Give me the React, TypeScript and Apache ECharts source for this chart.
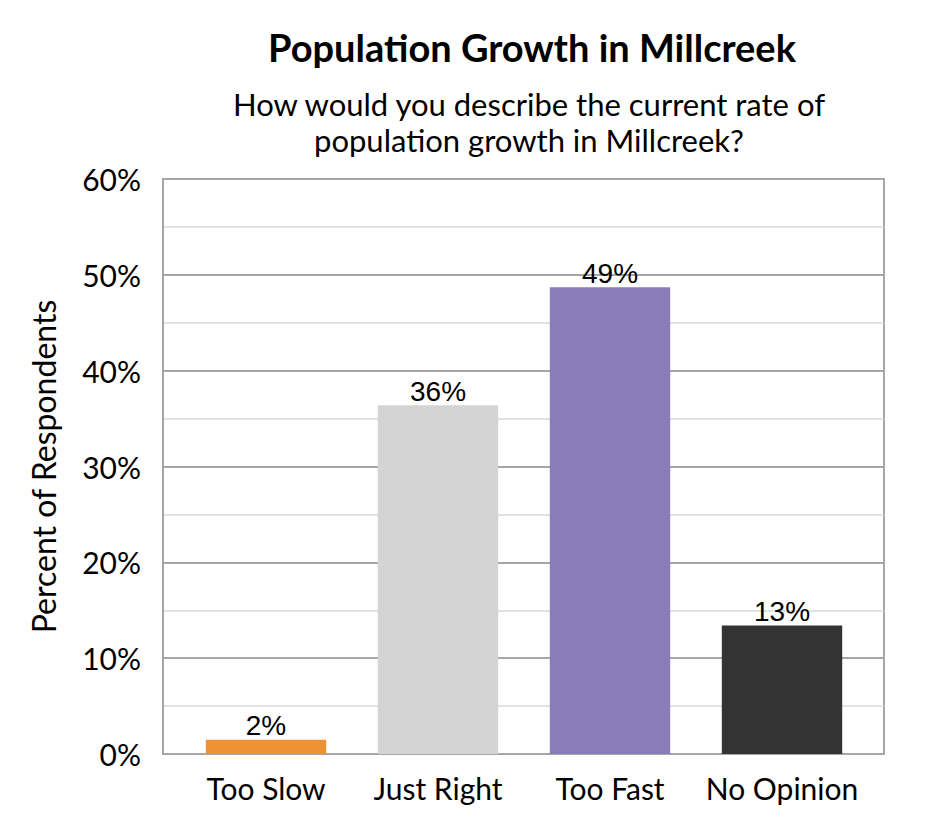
import React, {useRef, useEffect} from 'react';
import * as echarts from 'echarts';

const categories = ['Too Slow', 'Just Right', 'Too Fast', 'No Opinion'];
const values = [1.5, 36.4, 48.7, 13.4];
const labels = ['2%', '36%', '49%', '13%'];
const barColors = ['#EE9335', '#D4D4D4', '#897CB7', '#333333'];

const FONT = 'Lato, "Noto Sans", sans-serif';
const GRID_TOP = 179;
const GRID_BOTTOM = 86;

const App = () => {
    const ref = useRef<HTMLDivElement>(null);

    useEffect(() => {
        const chart = echarts.init(ref.current as HTMLDivElement, undefined, {renderer: 'svg'});
        chart.setOption({
            animation: false,
            backgroundColor: '#ffffff',
            title: [
                {
                    text: 'Population Growth in Millcreek',
                    left: 527,
                    top: 23,
                    textAlign: 'center',
                    textStyle: {fontFamily: FONT, fontSize: 38, fontWeight: 'bold', color: '#000'}
                },
                {
                    text: 'How would you describe the current rate of\npopulation growth in Millcreek?',
                    left: 524,
                    top: 81,
                    textAlign: 'center',
                    textStyle: {fontFamily: FONT, fontSize: 31, fontWeight: 'normal', color: '#000', lineHeight: 36}
                }
            ],
            // grid 0: plot frame and gridlines, grid 1: the bars (Excel keeps a small inset)
            grid: [
                {
                    left: 163,
                    right: 61,
                    top: GRID_TOP,
                    bottom: GRID_BOTTOM,
                    show: true,
                    borderColor: '#A6A6A6',
                    borderWidth: 2
                },
                {left: 180, right: 77, top: GRID_TOP, bottom: GRID_BOTTOM}
            ],
            xAxis: [
                {
                    gridIndex: 0,
                    type: 'value',
                    min: 0,
                    max: 1,
                    axisLine: {show: true, lineStyle: {color: '#A6A6A6', width: 2}},
                    axisTick: {show: false},
                    axisLabel: {show: false},
                    splitLine: {show: false}
                },
                {
                    gridIndex: 1,
                    type: 'category',
                    data: categories,
                    axisLine: {show: false},
                    axisTick: {show: false},
                    axisLabel: {interval: 0, fontFamily: FONT, fontSize: 30, color: '#000', margin: 19}
                }
            ],
            yAxis: [
                {
                    gridIndex: 0,
                    type: 'value',
                    min: 0,
                    max: 60,
                    interval: 10,
                    name: 'Percent of Respondents',
                    nameLocation: 'middle',
                    nameRotate: 90,
                    nameGap: 104,
                    nameTextStyle: {fontFamily: FONT, fontSize: 32, color: '#000'},
                    axisLine: {show: true, lineStyle: {color: '#A6A6A6', width: 2}},
                    axisTick: {show: false},
                    axisLabel: {
                        fontFamily: FONT,
                        fontSize: 30,
                        color: '#000',
                        margin: 22,
                        formatter: (v: number) => v + '%'
                    },
                    splitLine: {show: true, lineStyle: {color: '#A6A6A6', width: 2}},
                    minorTick: {show: false, splitNumber: 2},
                    minorSplitLine: {show: true, lineStyle: {color: '#D9D9D9', width: 1.5}}
                },
                {
                    gridIndex: 1,
                    type: 'value',
                    min: 0,
                    max: 60,
                    interval: 10,
                    show: false
                }
            ],
            series: [
                {
                    type: 'bar',
                    xAxisIndex: 1,
                    yAxisIndex: 1,
                    data: values.map((v, i) => ({value: v, itemStyle: {color: barColors[i]}})),
                    barCategoryGap: '30%',
                    label: {
                        show: true,
                        position: 'top',
                        distance: 0,
                        fontFamily: '"Liberation Sans", Arial, sans-serif',
                        fontSize: 28,
                        color: '#000',
                        formatter: (p: {dataIndex: number}) => labels[p.dataIndex]
                    }
                }
            ]
        });
        return () => chart.dispose();
    }, []);

    return <div ref={ref} style={{position: 'fixed', left: 0, top: 0, width: 945, height: 840}} />;
};

export default App;
